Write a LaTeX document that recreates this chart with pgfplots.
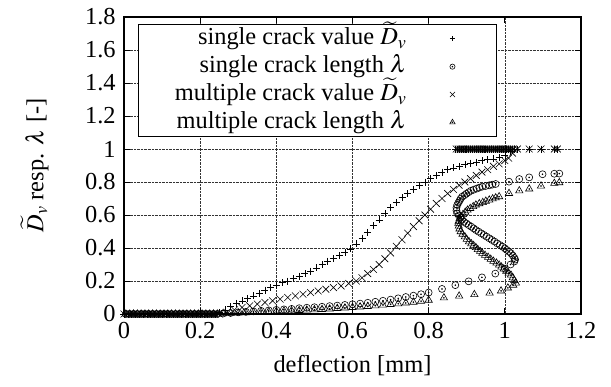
\documentclass[border=0pt]{standalone}
\usepackage{mathptmx}
\usepackage{fontspec}
\setmainfont{Liberation Serif}
\usepackage{pgfplots}
\pgfplotsset{compat=1.18}
\pgfdeclareplotmark{odot}{%
  \pgfpathcircle{\pgfpointorigin}{\pgfplotmarksize}\pgfusepathqstroke
  \pgfpathcircle{\pgfpointorigin}{0.45bp}\pgfusepathqfillstroke}
\pgfdeclareplotmark{tridot}{%
  \pgfpathmoveto{\pgfqpointpolar{90}{1.2\pgfplotmarksize}}%
  \pgfpathlineto{\pgfqpointpolar{-30}{1.2\pgfplotmarksize}}%
  \pgfpathlineto{\pgfqpointpolar{210}{1.2\pgfplotmarksize}}%
  \pgfpathclose\pgfusepathqstroke
  \pgfpathcircle{\pgfpointorigin}{0.45bp}\pgfusepathqfillstroke}
\begin{document}
\fontsize{24.5}{29}\selectfont
\begin{tikzpicture}
\begin{axis}[
  scale only axis, width=457bp, height=297bp,
  xmin=0, xmax=1.2, ymin=0, ymax=1.8,
  xtick={0,0.2,0.4,0.6,0.8,1,1.2},
  ytick={0,0.2,0.4,0.6,0.8,1,1.2,1.4,1.6,1.8},
  /pgf/number format/assume math mode=true,
  tick align=inside, major tick length=6bp,
  grid=major, grid style={densely dotted, black!80, line width=0.6bp},
  axis line style={line width=1.1bp},
  every tick/.style={black, line width=0.8bp},
  xlabel={deflection [mm]},
  ylabel={$\widetilde{D}_v$ resp. $\lambda$ [-]},
  ylabel shift=20bp,
  legend cell align=right, legend plot pos=right,
  legend style={at={(0.0296,0.975)}, anchor=north west, draw=black, fill=white,
    line width=0.9bp,
    inner xsep=36bp, inner ysep=0bp, row sep=0pt,
    nodes={inner xsep=1bp, inner ysep=0.5bp, text height=0.79em, text depth=0.31em}},
  legend image code/.code={\path[draw=none] (0bp,0bp) -- (53bp,0bp); \draw[#1, only marks, line width=0.6bp] plot coordinates {(45bp,0bp)};},
  every axis plot/.append style={black, only marks, mark size=3.5bp, line width=0.6bp},
  clip=false,
]
% single crack value
\addplot[mark=+, legend image post style={mark size=2.6bp}] coordinates {
(0,0)(0.01,0)(0.02,0)(0.03,0)(0.04,0)(0.05,0)(0.06,0)(0.07,0)(0.08,0)(0.09,0)(0.10,0)(0.11,0)(0.12,0)
(0.13,0)(0.14,0)(0.15,0)(0.16,0)(0.17,0)(0.18,0)(0.19,0)(0.20,0)(0.21,0)(0.22,0)(0.23,0)(0.24,0)
(0.25,0.01)(0.265,0.025)(0.28,0.045)(0.295,0.065)(0.31,0.08)(0.325,0.095)(0.34,0.11)(0.355,0.125)
(0.37,0.145)(0.385,0.16)(0.40,0.175)(0.415,0.19)(0.43,0.20)(0.445,0.215)(0.46,0.23)(0.475,0.245)
(0.49,0.26)(0.505,0.28)(0.52,0.30)(0.535,0.32)(0.55,0.335)(0.565,0.355)(0.58,0.375)(0.595,0.395)
(0.61,0.425)(0.625,0.46)(0.64,0.495)(0.655,0.535)(0.67,0.57)(0.685,0.61)(0.70,0.645)(0.715,0.675)
(0.73,0.705)(0.745,0.73)(0.76,0.755)(0.775,0.78)(0.79,0.80)(0.805,0.82)(0.82,0.84)(0.835,0.86)
(0.85,0.875)(0.865,0.885)(0.88,0.895)(0.895,0.905)(0.91,0.915)(0.925,0.92)(0.94,0.93)(0.955,0.935)
(0.97,0.94)(0.985,0.95)(1.0,0.96)(1.015,0.985)
(1.025,1)(1.02,1)(1.015,1)(1.01,1)(1.005,1)(1.0,1)(0.995,1)(0.99,1)(0.985,1)(0.98,1)(0.975,1)(0.97,1)
(0.965,1)(0.96,1)(0.955,1)(0.95,1)(0.945,1)(0.94,1)(0.935,1)(0.93,1)(0.925,1)(0.92,1)(0.915,1)(0.91,1)
(0.905,1)(0.90,1)(0.895,1)(0.89,1)(0.885,1)(0.88,1)(0.875,1)(0.87,1)
(1.033,1)(1.064,1)(1.095,1)(1.13,1)(1.138,1)
};
\addlegendentry{single crack value $\widetilde{D}_v$}
% single crack length
\addplot[mark=odot, legend image post style={mark size=2.6bp}] coordinates {
(0.005,0)(0.015,0)(0.025,0)(0.035,0)(0.045,0)(0.055,0)(0.065,0)(0.075,0)(0.085,0)(0.095,0)(0.105,0)
(0.115,0)(0.125,0)(0.135,0)(0.145,0)(0.155,0)(0.165,0)(0.175,0)(0.185,0)(0.195,0)(0.205,0)(0.215,0)
(0.225,0)(0.235,0)(0.245,0)
(0.26,0.003)(0.28,0.006)(0.30,0.01)(0.32,0.013)(0.34,0.016)(0.36,0.019)(0.38,0.022)(0.40,0.025)
(0.42,0.028)(0.44,0.031)(0.46,0.035)(0.48,0.038)(0.50,0.041)(0.52,0.044)(0.54,0.048)(0.56,0.051)
(0.58,0.055)(0.60,0.059)(0.62,0.063)(0.64,0.068)(0.66,0.074)(0.68,0.08)(0.70,0.087)(0.72,0.095)
(0.74,0.103)(0.76,0.111)(0.78,0.12)(0.80,0.13)(0.835,0.152)(0.87,0.175)(0.905,0.198)(0.94,0.222)
(0.975,0.245)(1.0,0.275)(1.015,0.3)(1.025,0.318)(1.027,0.33)
(1.025,0.34)(1.021,0.354)(1.016,0.368)(1.011,0.378)(1.005,0.388)(1.0,0.398)(0.994,0.408)
(0.987,0.418)(0.980,0.428)(0.973,0.439)(0.966,0.449)(0.959,0.459)(0.952,0.469)(0.945,0.479)
(0.938,0.489)(0.931,0.499)(0.924,0.509)(0.918,0.519)(0.912,0.529)(0.905,0.539)(0.899,0.549)
(0.893,0.559)(0.888,0.572)(0.884,0.585)(0.879,0.597)(0.875,0.610)(0.873,0.627)(0.873,0.644)
(0.875,0.661)(0.878,0.674)(0.881,0.686)(0.884,0.699)(0.888,0.711)(0.894,0.72)(0.899,0.729)
(0.905,0.738)(0.911,0.747)(0.918,0.753)(0.926,0.76)(0.933,0.766)(0.941,0.772)(0.95,0.776)
(0.959,0.78)(0.967,0.784)(0.976,0.788)
(1.011,0.802)(1.038,0.818)(1.064,0.828)(1.099,0.847)(1.13,0.85)(1.143,0.851)
};
\addlegendentry{single crack length $\lambda$}
% multiple crack value
\addplot[mark=x, mark size=4.8bp, legend image post style={mark size=3.6bp}] coordinates {
(0,0)(0.01,0)(0.02,0)(0.03,0)(0.04,0)(0.05,0)(0.06,0)(0.07,0)(0.08,0)(0.09,0)(0.10,0)(0.11,0)(0.12,0)
(0.13,0)(0.14,0)(0.15,0)(0.16,0)(0.17,0)(0.18,0)(0.19,0)(0.20,0)(0.21,0)(0.22,0)(0.23,0)(0.24,0)(0.25,0)
(0.27,0.01)(0.29,0.025)(0.31,0.04)(0.33,0.05)(0.35,0.06)(0.37,0.07)(0.39,0.08)(0.41,0.09)(0.43,0.10)
(0.45,0.11)(0.47,0.12)(0.49,0.13)(0.51,0.14)(0.53,0.15)(0.55,0.16)(0.57,0.17)(0.59,0.185)(0.61,0.20)
(0.625,0.22)(0.64,0.245)(0.655,0.27)(0.67,0.30)(0.685,0.335)(0.70,0.37)(0.715,0.41)(0.73,0.45)
(0.745,0.49)(0.76,0.53)(0.775,0.565)(0.79,0.60)(0.805,0.635)(0.82,0.67)(0.835,0.70)(0.85,0.73)
(0.865,0.755)(0.88,0.78)(0.895,0.80)(0.91,0.82)(0.925,0.84)(0.94,0.86)(0.955,0.875)(0.97,0.895)
(0.985,0.91)(1.0,0.93)(1.01,0.945)(1.02,0.975)
(1.0225,1)(1.0175,1)(1.0125,1)(1.0075,1)(1.0025,1)(0.9975,1)(0.9925,1)(0.9875,1)(0.9825,1)(0.9775,1)
(0.9725,1)(0.9675,1)(0.9625,1)(0.9575,1)(0.9525,1)(0.9475,1)(0.9425,1)(0.9375,1)(0.9325,1)(0.9275,1)
(0.9225,1)(0.9175,1)(0.9125,1)(0.9075,1)(0.9025,1)(0.8975,1)(0.8925,1)(0.8875,1)(0.8825,1)(0.8775,1)
(0.8725,1)
(1.033,1)(1.064,1)(1.095,1)(1.13,1)(1.138,1)
};
\addlegendentry{multiple crack value $\widetilde{D}_v$}
% multiple crack length
\addplot[mark=tridot, mark size=3.5bp, legend image post style={mark size=2.6bp}] coordinates {
(0.005,0)(0.015,0)(0.025,0)(0.035,0)(0.045,0)(0.055,0)(0.065,0)(0.075,0)(0.085,0)(0.095,0)(0.105,0)
(0.115,0)(0.125,0)(0.135,0)(0.145,0)(0.155,0)(0.165,0)(0.175,0)(0.185,0)(0.195,0)(0.205,0)(0.215,0)
(0.225,0)(0.235,0)(0.245,0)
(0.26,0.002)(0.28,0.004)(0.30,0.006)(0.32,0.008)(0.34,0.01)(0.36,0.012)(0.38,0.014)(0.40,0.016)
(0.42,0.018)(0.44,0.02)(0.46,0.022)(0.48,0.024)(0.50,0.026)(0.52,0.028)(0.54,0.031)(0.56,0.034)
(0.58,0.037)(0.60,0.04)(0.62,0.043)(0.64,0.046)(0.66,0.05)(0.68,0.054)(0.70,0.058)(0.72,0.062)
(0.74,0.067)(0.76,0.072)(0.78,0.078)(0.80,0.084)(0.84,0.098)(0.88,0.109)(0.92,0.118)(0.96,0.127)
(0.99,0.14)(1.008,0.158)(1.022,0.175)(1.029,0.188)
(1.025,0.203)(1.021,0.22)(1.016,0.236)(1.01,0.248)(1.004,0.26)(0.997,0.273)(0.991,0.285)(0.985,0.297)
(0.978,0.309)(0.970,0.32)(0.963,0.332)(0.956,0.344)(0.948,0.356)(0.941,0.368)(0.935,0.38)(0.929,0.391)
(0.924,0.403)(0.918,0.415)(0.912,0.426)(0.906,0.438)(0.9,0.453)(0.895,0.468)(0.889,0.484)(0.884,0.499)
(0.881,0.516)(0.879,0.533)(0.878,0.55)(0.879,0.563)(0.881,0.577)(0.884,0.59)(0.89,0.603)(0.896,0.617)
(0.902,0.63)(0.909,0.64)(0.917,0.651)(0.924,0.661)(0.933,0.669)(0.942,0.676)(0.95,0.684)(0.959,0.691)
(0.968,0.698)(0.976,0.704)(0.985,0.711)
(1.011,0.731)(1.038,0.747)(1.064,0.758)(1.095,0.776)(1.13,0.792)(1.143,0.796)
};
\addlegendentry{multiple crack length $\lambda$}
\end{axis}
\path (current axis.south west) ++(-124bp,-73bp) rectangle ++(611bp,387bp);
\end{tikzpicture}
\end{document}
